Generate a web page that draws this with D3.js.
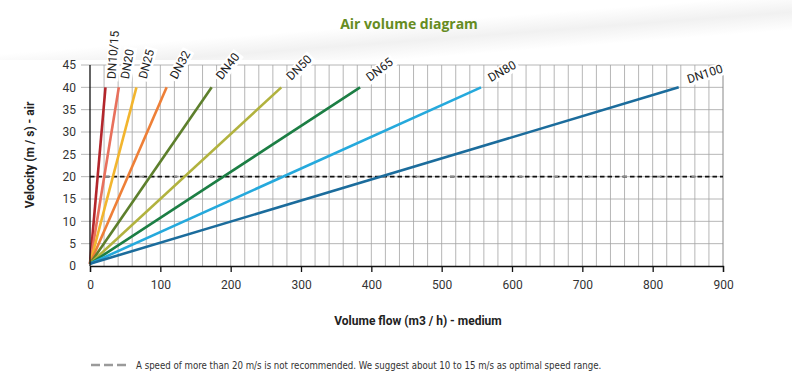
<!DOCTYPE html>
<html>
<head>
<meta charset="utf-8">
<script src="https://cdn.jsdelivr.net/npm/d3@7"></script>
<style>
  html, body { margin: 0; padding: 0; background: #fff; }
  svg { display: block; }
</style>
</head>
<body>
<svg id="chart" width="792" height="382"></svg>
<script>
// ---- data ----
const series = ["DN10/15", "DN20", "DN25", "DN32", "DN40", "DN50", "DN65", "DN80", "DN100"];
const flowAt40 = [22, 41, 66, 109, 173, 272, 384, 556, 837];   // m3/h at 40 m/s
const startVelocity = [0.5, 0.5, 0.5, 0.5, 0.5, 0.5, 0.5, 0.5, 0.5];
const endVelocity = [40, 40, 40, 40, 40, 40, 40, 40, 40];
const xTicks = [0, 100, 200, 300, 400, 500, 600, 700, 800, 900];
const yTicks = [0, 5, 10, 15, 20, 25, 30, 35, 40, 45];
const limitVelocity = 20;
const title = "Air volume diagram";
const xTitle = "Volume flow (m3 / h) - medium";
const yTitle = "Velocity (m / s) - air";
const note = "A speed of more than 20 m/s is not recommended. We suggest about 10 to 15 m/s as optimal speed range.";

// ---- styles ----
const colors = ["#b3262c", "#e8705c", "#f2b52e", "#ee7f37", "#5d7f2c", "#b1b23e", "#1c7e44", "#25a9dc", "#1b6c9c"];
const labelRotation = [-86, -80, -75, -62, -52, -45, -37, -30, -18];

const svg = d3.select("#chart");
const W = 792, H = 382;
const m = { left: 90, right: 69, top: 65, bottom: 116 };

// faint background shading at top
const defs = svg.append("defs");
const g1 = defs.append("linearGradient").attr("id", "bgGrad")
  .attr("x1", "0").attr("y1", "0").attr("x2", "1").attr("y2", "1");
g1.append("stop").attr("offset", "0").attr("stop-color", "#ffffff");
g1.append("stop").attr("offset", "0.45").attr("stop-color", "#ffffff");
g1.append("stop").attr("offset", "0.6").attr("stop-color", "#f1f1f1");
g1.append("stop").attr("offset", "0.75").attr("stop-color", "#ffffff");
svg.append("rect").attr("x", 0).attr("y", 0).attr("width", W).attr("height", 60).attr("fill", "url(#bgGrad)");

const x = d3.scaleLinear().domain([0, 900]).range([m.left, W - m.right]);
const y = d3.scaleLinear().domain([0, 45]).range([H - m.bottom, m.top]);

const font = "Roboto, 'Liberation Sans', sans-serif";

// grid: vertical every 20
const gridX = d3.range(20, 900, 20);
svg.append("g").selectAll("line").data(gridX).join("line")
  .attr("x1", d => x(d)).attr("x2", d => x(d))
  .attr("y1", y(0)).attr("y2", y(45))
  .attr("stroke", "#a3a3a3").attr("stroke-width", 0.8);

// horizontal grid every 5 (extends left as ticks)
svg.append("g").selectAll("line").data(yTicks.filter(d => d > 0)).join("line")
  .attr("x1", x(0) - 9).attr("x2", x(900))
  .attr("y1", d => y(d)).attr("y2", d => y(d))
  .attr("stroke", "#a3a3a3").attr("stroke-width", 0.8);

// right border
svg.append("line").attr("x1", x(900)).attr("x2", x(900)).attr("y1", y(0)).attr("y2", y(45))
  .attr("stroke", "#888").attr("stroke-width", 1);

// dashed limit line
svg.append("line").attr("x1", x(0)).attr("x2", x(900))
  .attr("y1", y(limitVelocity)).attr("y2", y(limitVelocity))
  .attr("stroke", "#111").attr("stroke-width", 1.6).attr("stroke-dasharray", "4.5,3");
svg.append("line").attr("x1", x(0)).attr("x2", x(900))
  .attr("y1", y(limitVelocity)).attr("y2", y(limitVelocity))
  .attr("stroke", "#8a8a8a").attr("stroke-width", 1.8).attr("stroke-dasharray", "4.5,30")
  .attr("stroke-dashoffset", -15);

// series lines
const lineData = series.map((s, i) => ({
  name: s, color: colors[i], rot: labelRotation[i],
  pts: [[0, startVelocity[i]], [flowAt40[i], endVelocity[i]]]
}));
const line = d3.line().x(d => x(d[0])).y(d => y(d[1]));
svg.append("g").selectAll("path").data(lineData).join("path")
  .attr("d", d => line(d.pts))
  .attr("fill", "none").attr("stroke", d => d.color).attr("stroke-width", 2.6)
  .attr("stroke-linecap", "butt");

// axes lines
svg.append("line").attr("x1", x(0)).attr("x2", x(0)).attr("y1", y(0)).attr("y2", y(45))
  .attr("stroke", "#111").attr("stroke-width", 1.3);
const xAxis = d3.axisBottom(x).tickValues(xTicks).tickSize(6).tickPadding(8).tickFormat(d3.format("d"));
const gx = svg.append("g").attr("transform", `translate(0,${y(0)})`).call(xAxis);
gx.select(".domain").attr("stroke", "#111").attr("stroke-width", 1.3);
gx.selectAll(".tick line").attr("stroke", "#111").attr("stroke-width", 1.3);
gx.selectAll("text").attr("font-family", font).attr("font-size", 12).attr("fill", "#333");

const yAxis = d3.axisLeft(y).tickValues(yTicks).tickSize(0).tickPadding(14).tickFormat(d3.format("d"));
const gy = svg.append("g").attr("transform", `translate(${x(0)},0)`).call(yAxis);
gy.select(".domain").remove();
gy.selectAll("text").attr("font-family", font).attr("font-size", 12).attr("fill", "#333");

// labels with white boxes
const lab = svg.append("g").selectAll("g").data(lineData).join("g")
  .attr("transform", d => {
    const ex = x(d.pts[1][0]), ey = y(d.pts[1][1]);
    const s = Math.sin(d.rot * Math.PI / 180);
    return `translate(${ex + 10},${ey - 2 + 6 * s}) rotate(${d.rot})`;
  });
lab.each(function(d) {
  const g = d3.select(this);
  const t = g.append("text").attr("x", 0).attr("y", 0)
    .attr("font-family", font).attr("font-size", 12).attr("fill", "#222")
    .text(d.name);
  const b = t.node().getBBox();
  g.insert("rect", "text").attr("x", b.x - 2).attr("y", b.y + 1).attr("width", b.width + 4).attr("height", b.height - 1)
    .attr("fill", "#fff");
});

// titles
svg.append("text").attr("x", 409).attr("y", 29).attr("text-anchor", "middle")
  .attr("font-family", "'Open Sans', sans-serif").attr("font-weight", "bold").attr("font-size", 14)
  .attr("fill", "#668c22").text(title);
svg.append("text").attr("x", 418).attr("y", 325).attr("text-anchor", "middle")
  .attr("font-family", font).attr("font-weight", "bold").attr("font-size", 12)
  .attr("fill", "#222").text(xTitle);
svg.append("text").attr("transform", `translate(34,155) rotate(-90)`).attr("text-anchor", "middle")
  .attr("font-family", font).attr("font-weight", "bold").attr("font-size", 12)
  .attr("fill", "#222").text(yTitle);

// footnote
svg.append("line").attr("x1", 91).attr("x2", 128).attr("y1", 365).attr("y2", 365)
  .attr("stroke", "#9a9a9a").attr("stroke-width", 2.6).attr("stroke-dasharray", "9,4");
svg.append("text").attr("x", 136).attr("y", 368.5)
  .attr("font-family", "'Liberation Sans Narrow', 'DejaVu Sans Condensed', sans-serif").attr("font-size", 9.6)
  .attr("fill", "#333").text(note);
</script>
</body>
</html>
